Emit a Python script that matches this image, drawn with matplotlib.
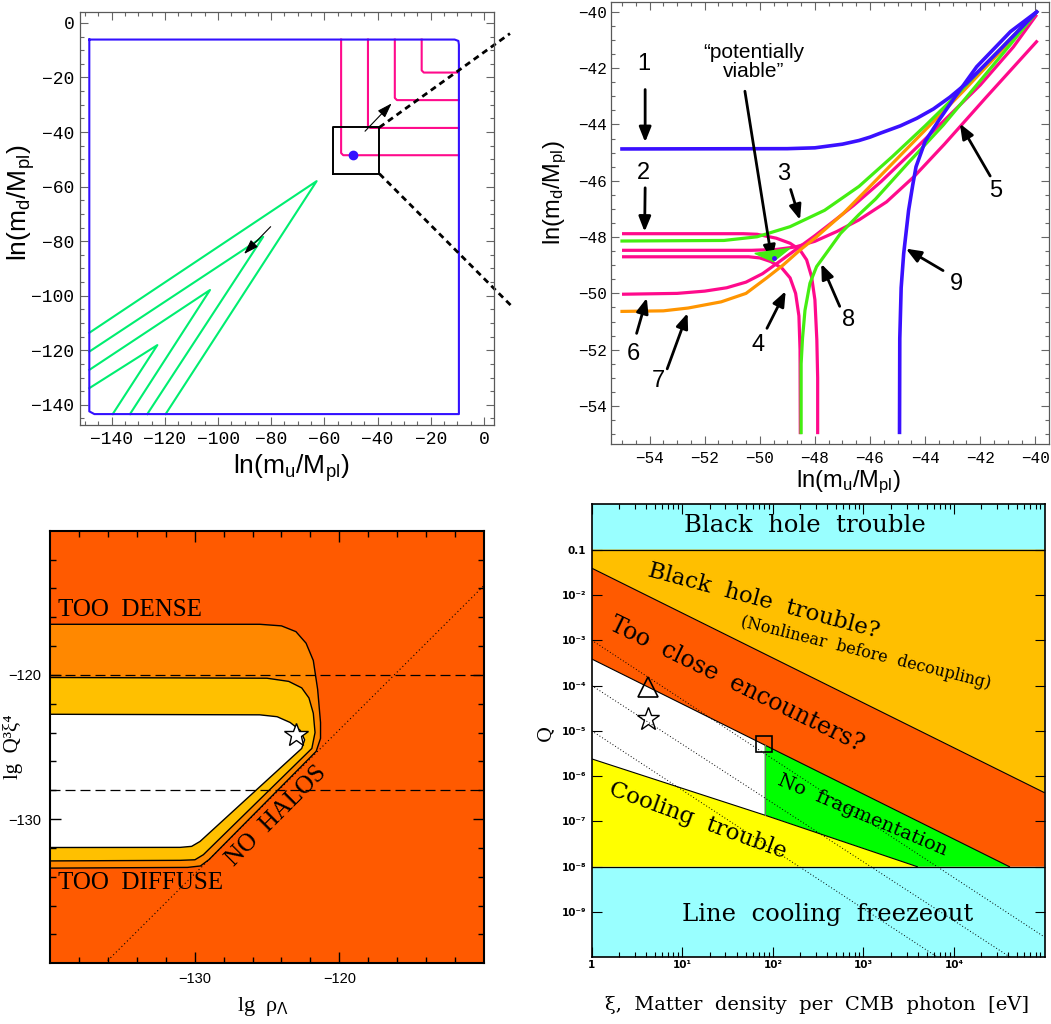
import numpy as np
import matplotlib
matplotlib.use('Agg')
import matplotlib.pyplot as plt

plt.rcParams['mathtext.fontset'] = 'custom'
plt.rcParams['mathtext.rm'] = 'Liberation Sans'
plt.rcParams['mathtext.it'] = 'Liberation Sans:italic'
plt.rcParams['mathtext.bf'] = 'Liberation Sans:bold'

MINUS = '\u2212'

# ---------------- panel 1 (wide view of ln m_d vs ln m_u) ----------------
blue_box_x = [-148.4, -11.0, -9.6, -9.4, -9.4, -146.5, -148.4, -148.4]
blue_box_y = [-6.1, -6.1, -6.6, -8.0, -143.4, -143.4, -142.4, -6.1]
pink_corner_x = [-53.7, -43.6, -33.5, -23.4]
pink_corner_y = [-48.5, -38.5, -28.3, -18.2]
green_left_y = [-113.6, -120.5, -127.2, -133.9]
green_tip_x = [-62.9, -83.0, -103.0, -122.8]
green_tip_y = [-58.0, -78.4, -97.9, -118.1]
green_bottom_x = [-119.7, -126.6, -133.1, -139.6]
dot1 = (-49.1, -48.5)
zoom_box_x = [-56.9, -39.3]
zoom_box_y = [-55.3, -38.3]
dash_start = [(-39.3, -38.3), (-39.3, -55.3)]
dash_end = [(9.8, -3.9), (10.4, -103.8)]
p1_arrow_tail = [(-44.7, -39.7), (-80.2, -74.7)]
p1_arrow_head = [(-34.7, -29.5), (-90.2, -84.7)]
p1_ticks = np.arange(-140, 1, 20)

# ---------------- panel 2 (zoom) ----------------
c1_x = [-55.0, -49.0, -48.0, -47.0, -46.4, -46.0, -45.6, -44.9, -44.3, -43.7, -43.1, -42.5, -41.3, -39.95]
c1_y = [-44.87, -44.86, -44.83, -44.7, -44.57, -44.45, -44.3, -44.05, -43.78, -43.45, -43.03, -42.54, -41.36, -40.0]
c9_x = [-44.93, -44.92, -44.87, -44.78, -44.6, -44.45, -44.33, -44.0, -43.5, -42.9, -42.13, -40.9, -39.95]
c9_y = [-55.0, -51.6, -49.8, -48.6, -47.05, -46.15, -45.5, -44.6, -43.85, -43.0, -41.95, -40.7, -40.0]
c5_x = [-55.0, -50.3, -49.4, -48.7, -48.0, -47.2, -46.4, -45.4, -44.4, -43.3, -41.8, -39.92]
c5_y = [-48.47, -48.47, -48.44, -48.35, -48.15, -47.8, -47.39, -46.75, -45.85, -44.7, -43.05, -41.02]
c2_x = [-55.0, -50.6, -50.1, -49.4, -48.9, -48.54, -48.3, -48.12, -48.0, -47.93, -47.9, -47.9]
c2_y = [-47.88, -47.88, -47.9, -48.04, -48.22, -48.46, -48.81, -49.41, -50.23, -51.65, -53.0, -55.0]
c4_x = [-55.0, -50.4, -50.0, -49.6, -49.2, -48.9, -48.7, -48.58, -48.54, -48.53]
c4_y = [-48.7, -48.7, -48.74, -48.87, -49.1, -49.45, -50.0, -50.8, -52.0, -55.0]
c6_x = [-55.0, -53.0, -52.0, -51.2, -50.5, -49.9, -49.3, -48.7, -48.0, -47.3, -46.6, -45.6, -44.5, -43.3, -42.0, -40.8, -39.95]
c6_y = [-50.03, -50.0, -49.92, -49.8, -49.6, -49.3, -48.88, -48.45, -47.95, -47.42, -46.88, -46.03, -45.0, -43.85, -42.6, -41.25, -40.1]
c7_x = [-55.0, -53.5, -52.6, -51.4, -50.5, -49.75, -49.15, -48.54, -47.94, -46.97, -45.9, -44.9, -43.8, -42.6, -41.3, -39.95]
c7_y = [-50.64, -50.62, -50.52, -50.3, -50.0, -49.45, -48.99, -48.46, -47.99, -47.16, -46.1, -45.1, -44.0, -42.8, -41.45, -40.0]
c3_x = [-55.0, -51.3, -50.1, -48.9, -47.65, -46.4, -45.2, -44.0, -42.75, -41.5, -39.95]
c3_y = [-48.14, -48.12, -47.99, -47.63, -47.05, -46.2, -45.15, -44.05, -42.85, -41.55, -40.0]
c8_x = [-48.5, -48.5, -48.45, -48.36, -48.18, -47.94, -47.57, -47.07, -46.4, -45.8, -44.6, -43.35, -42.13, -40.9, -39.95]
c8_y = [-55.0, -52.5, -51.6, -50.6, -49.64, -49.05, -48.55, -47.87, -47.2, -46.65, -45.35, -44.03, -42.6, -41.15, -40.0]
viable_x = [-50.18, -48.91, -49.51]
viable_y = [-48.58, -48.4, -48.87]
dot2 = (-49.47, -48.73)
num_labels = ['1', '2', '3', '4', '5', '6', '7', '8', '9']
num_pos = [(-54.22, -41.86), (-54.22, -45.71), (-49.13, -45.77), (-50.05, -51.84), (-41.45, -46.37),
           (-54.59, -52.14), (-53.67, -53.1), (-46.79, -50.94), (-42.86, -49.68)]
num_tail = [(-54.16, -42.76), (-54.16, -46.25), (-48.88, -46.31), (-49.74, -51.24), (-41.64, -45.83),
            (-54.47, -51.42), (-53.36, -52.68), (-47.1, -50.46), (-43.35, -49.19)]
num_head = [(-54.16, -44.63), (-54.18, -47.81), (-48.54, -47.39), (-49.06, -49.92), (-42.74, -43.97),
            (-54.1, -50.16), (-52.62, -50.7), (-47.77, -48.95), (-44.7, -48.41)]
viable_text_pos = (-50.23, -41.77)
viable_tail = (-50.54, -42.82)
viable_head = (-49.56, -48.83)
p2_ticks = np.arange(-54, -39, 2)

# ---------------- panel 3 (lg rho_Lambda vs lg Q^3 xi^4) ----------------
outer_x = [-140, -125.5, -124.0, -123.0, -122.3, -121.8, -121.5, -121.3, -121.3, -121.6, -129.0, -129.6, -130.5, -140]
outer_y = [-116.49, -116.49, -116.6, -117.0, -117.8, -119.0, -121.0, -123.3, -124.4, -125.3, -132.8, -133.25, -133.35, -133.4]
middle_x = [-140, -125.0, -123.5, -122.6, -122.1, -121.8, -121.68, -121.9, -129.4, -129.98, -131.0, -140]
middle_y = [-120.18, -120.23, -120.45, -120.9, -121.6, -122.66, -124.0, -125.1, -132.47, -132.82, -132.86, -132.9]
inner_x = [-140, -125.5, -124.3, -123.4, -122.7, -122.4, -122.6, -129.63, -130.21, -131.0, -140]
inner_y = [-122.73, -122.77, -122.9, -123.3, -123.85, -124.5, -125.1, -131.55, -131.89, -131.96, -131.97]
dashed_levels = [-120, -128]
diag_x = [-136.2, -110.0]
diag_y = [-140.0, -113.8]
star3 = (-123.0, -124.2)
p3_ticks = [-130, -120]

# ---------------- panel 4 (xi vs Q) ----------------
upper_xi = [1, 1e5]
upper_q = [3.9e-2, 4.3e-7]
lower_xi = [1, 4.1e4]
lower_q = [3.85e-4, 1e-8]
cool_xi = [1, 81, 3.94e3]
cool_q = [2.4e-6, 1.38e-7, 1e-8]
frag_xi = 81
frag_q_top = 4.9e-6
q_bh = 0.1
q_line = 1e-8
dot_xi_start = [1, 1, 1]
dot_q_start = [1e-3, 1e-4, 1e-5]
dot_xi_end = [1e5, 4.2e4, 6.6e3]
dot_q_end = [2.8e-10, 1e-10, 1e-10]
tri4 = (4.15, 9.5e-5)
star4 = (4.15, 1.8e-5)
sq4 = (80, 5.1e-6)
p4_xticks = [1, 1e1, 1e2, 1e3, 1e4]
p4_xlabels = ['1', '10\u00b9', '10\u00b2', '10\u00b3', '10\u2074']
p4_yticks = [1e-1, 1e-2, 1e-3, 1e-4, 1e-5, 1e-6, 1e-7, 1e-8, 1e-9]
p4_ylabels = ['0.1', '10\u207b\u00b2', '10\u207b\u00b3', '10\u207b\u2074', '10\u207b\u2075',
              '10\u207b\u2076', '10\u207b\u2077', '10\u207b\u2078', '10\u207b\u2079']

W, H = 1051, 1024
fig = plt.figure(figsize=(W / 100, H / 100), dpi=100)


def box(l, r, t, b):
    return [l / W, 1 - b / H, (r - l) / W, (b - t) / H]


# ---------- panel 1 ----------
ax1 = fig.add_axes(box(80, 494, 12, 425))
blue = '#3311FF'
pink = '#FF0A8C'
green1 = '#00EE70'
for ly, tx, ty, bx in zip(green_left_y, green_tip_x, green_tip_y, green_bottom_x):
    ax1.plot([-148.4, tx, bx], [ly, ty, -143.4], color=green1, lw=1.5, solid_joinstyle='round')
for cx, cy in zip(pink_corner_x, pink_corner_y):
    ax1.plot([cx, cx, cx + 0.8, -9.4], [-6.1, cy + 0.8, cy, cy], color=pink, lw=1.5)
ax1.plot(blue_box_x, blue_box_y, color=blue, lw=1.5)
ax1.plot(*dot1, 'o', color=blue, ms=6)
ax1.plot([zoom_box_x[0], zoom_box_x[1], zoom_box_x[1], zoom_box_x[0], zoom_box_x[0]],
         [zoom_box_y[0], zoom_box_y[0], zoom_box_y[1], zoom_box_y[1], zoom_box_y[0]], color='k', lw=1.4)
for s, e in zip(dash_start, dash_end):
    ax1.plot([s[0], e[0]], [s[1], e[1]], color='k', lw=2, dashes=(2.2, 1.6), clip_on=False)
for t, h in zip(p1_arrow_tail, p1_arrow_head):
    ax1.annotate('', xy=h, xytext=t,
                 arrowprops=dict(arrowstyle='-|>,head_length=0.9,head_width=0.3', color='k', lw=0.8,
                                 mutation_scale=10, shrinkA=0, shrinkB=0))
ax1.set_xlim(-151.9, 3.8)
ax1.set_ylim(-147.4, 4.0)
lab1 = [str(v).replace('-', MINUS) for v in p1_ticks]
ax1.set_xticks(p1_ticks, lab1, fontfamily='Liberation Mono', fontsize=13)
ax1.set_yticks(p1_ticks, lab1, fontfamily='Liberation Mono', fontsize=13)
ax1.set_xticks(np.arange(-150, 4, 5), minor=True)
ax1.set_yticks(np.arange(-145, 4, 5), minor=True)
ax1.tick_params(which='both', direction='in', top=True, right=True, color='0.4', width=0.8)
ax1.tick_params(which='major', length=6)
ax1.tick_params(which='minor', length=3)
ax1.tick_params(axis='x', pad=4)
ax1.tick_params(axis='y', pad=4)
for sp in ax1.spines.values():
    sp.set_color('0.35')
    sp.set_linewidth(0.9)
ax1.set_xlabel('ln(m$_\\mathrm{u}$/M$_\\mathrm{pl}$)', fontfamily='Liberation Sans', fontsize=19,
               va='center', ha='center')
ax1.xaxis.set_label_coords(0.51, -0.104)
ax1.set_ylabel('ln(m$_\\mathrm{d}$/M$_\\mathrm{pl}$)', fontfamily='Liberation Sans', fontsize=19,
               va='center', ha='center')
ax1.yaxis.set_label_coords(-0.141, 0.537)

# ---------- panel 2 ----------
ax2 = fig.add_axes(box(610.7, 1048.6, 1.7, 444.3))
green2 = '#44EE11'
orange2 = '#FF9500'
blue2 = '#3A10FF'
lw2 = 2.3
for xs, ys in [(c6_x, c6_y), (c5_x, c5_y), (c2_x, c2_y), (c4_x, c4_y)]:
    ax2.plot(xs, ys, color=pink, lw=lw2, solid_capstyle='butt', solid_joinstyle='round')
ax2.plot(c7_x, c7_y, color=orange2, lw=lw2, solid_joinstyle='round')
ax2.plot(c3_x, c3_y, color=green2, lw=lw2, solid_joinstyle='round')
ax2.plot(c8_x, c8_y, color=green2, lw=lw2, solid_capstyle='butt', solid_joinstyle='round')
ax2.plot(c1_x, c1_y, color=blue2, lw=lw2 + 0.3, solid_joinstyle='round')
ax2.plot(c9_x, c9_y, color=blue2, lw=lw2 + 0.3, solid_capstyle='butt', solid_joinstyle='round')
ax2.fill(viable_x, viable_y, color=green2, zorder=4)
ax2.plot(*dot2, 'o', color=blue2, ms=2.5, zorder=5)
arrow_kw = dict(arrowstyle='-|>,head_length=0.75,head_width=0.3', color='k', lw=2,
                mutation_scale=12, shrinkA=0, shrinkB=0)
for lab, pos, t, h in zip(num_labels, num_pos, num_tail, num_head):
    ax2.text(pos[0], pos[1], lab, fontfamily='Liberation Sans', fontsize=17, ha='center', va='center')
    ax2.annotate('', xy=h, xytext=t, arrowprops=arrow_kw)
ax2.text(*viable_text_pos, '\u201cpotentially\nviable\u201d', fontfamily='Liberation Sans', fontsize=15,
         ha='center', va='center', linespacing=1.0)
ax2.annotate('', xy=viable_head, xytext=viable_tail, arrowprops=arrow_kw)
ax2.set_xlim(-55.41, -39.52)
ax2.set_ylim(-55.36, -39.64)
lab2 = [str(v).replace('-', MINUS) for v in p2_ticks]
ax2.set_xticks(p2_ticks, lab2, fontfamily='Liberation Mono', fontsize=11.5)
ax2.set_yticks(p2_ticks, lab2, fontfamily='Liberation Mono', fontsize=11.5)
ax2.set_xticks(np.arange(-55, -39.5, 0.5), minor=True)
ax2.set_yticks(np.arange(-55, -39.5, 0.5), minor=True)
ax2.tick_params(which='both', direction='in', top=True, right=True, color='0.4', width=0.8)
ax2.tick_params(which='major', length=6)
ax2.tick_params(which='minor', length=3)
ax2.tick_params(axis='x', pad=5)
ax2.tick_params(axis='y', pad=3)
for sp in ax2.spines.values():
    sp.set_color('0.35')
    sp.set_linewidth(0.9)
ax2.set_xlabel('ln(m$_\\mathrm{u}$/M$_\\mathrm{pl}$)', fontfamily='Liberation Sans', fontsize=17,
               va='center', ha='center')
ax2.xaxis.set_label_coords(0.542, -0.085)
ax2.set_ylabel('ln(m$_\\mathrm{d}$/M$_\\mathrm{pl}$)', fontfamily='Liberation Sans', fontsize=17,
               va='center', ha='center')
ax2.yaxis.set_label_coords(-0.126, 0.568)

# ---------- panel 3 ----------
ax3 = fig.add_axes(box(50, 484, 530.7, 963.3))
ax3.set_facecolor('#FF5A00')
ax3.fill(outer_x, outer_y, color='#FF8800', lw=0)
ax3.fill(middle_x, middle_y, color='#FFC000', lw=0)
ax3.fill(inner_x, inner_y, color='white', lw=0)
for xs, ys in [(outer_x, outer_y), (middle_x, middle_y), (inner_x, inner_y)]:
    ax3.plot(xs, ys, color='k', lw=1.0)
for lev in dashed_levels:
    ax3.axhline(lev, color='k', lw=0.9, dashes=(8, 4))
ax3.plot(diag_x, diag_y, color='k', lw=0.8, dashes=(1, 2.5))
ax3.plot(*star3, marker='*', ms=18, mfc='white', mec='k', mew=1.0)
serif3 = ['Liberation Serif', 'DejaVu Serif']
ax3.text(-139.42, -115.5, 'TOO  DENSE', fontfamily=serif3, fontsize=18, ha='left', va='center')
ax3.text(-139.42, -134.43, 'TOO  DIFFUSE', fontfamily=serif3, fontsize=18, ha='left', va='center')
ax3.text(-124.33, -129.82, 'NO  HALOS', fontfamily=serif3, fontsize=18, ha='center', va='center',
         rotation=45, rotation_mode='anchor')
ax3.set_xlim(-140, -110)
ax3.set_ylim(-140, -110)
lab3 = [str(v).replace('-', MINUS) for v in p3_ticks]
ax3.set_xticks(p3_ticks, lab3, fontfamily='Liberation Sans', fontsize=10.5)
ax3.set_yticks(p3_ticks, lab3, fontfamily='Liberation Sans', fontsize=10.5)
ax3.set_xticks(np.arange(-138, -110, 2), minor=True)
ax3.set_yticks(np.arange(-138, -110, 2), minor=True)
ax3.tick_params(which='both', direction='in', top=True, right=True, width=1.0)
ax3.tick_params(which='major', length=8)
ax3.tick_params(which='minor', length=4)
ax3.tick_params(axis='x', pad=6)
ax3.tick_params(axis='y', pad=6)
for sp in ax3.spines.values():
    sp.set_linewidth(1.5)
ax3.set_xlabel('lg  \u03c1$_{\\Lambda}$', fontfamily=serif3, fontsize=16, va='center', ha='center')
ax3.xaxis.set_label_coords(0.49, -0.101)
ax3.set_ylabel('lg  Q\u00b3\u03be\u2074', fontfamily=serif3, fontsize=15, va='center', ha='center')
ax3.yaxis.set_label_coords(-0.085, 0.5)

# ---------- panel 4 ----------
ax4 = fig.add_axes(box(591.7, 1044.5, 504.3, 957.3))
ax4.set_xscale('log')
ax4.set_yscale('log')
ax4.set_xlim(1, 1e5)
ax4.set_ylim(1e-10, 1)
cyan = '#99FFFF'
ax4.axhspan(q_bh, 1, color=cyan, lw=0)
ax4.axhspan(1e-10, q_line, color=cyan, lw=0)
ax4.fill([upper_xi[0], upper_xi[1], upper_xi[1], upper_xi[0]],
         [q_bh, q_bh, upper_q[1], upper_q[0]], color='#FFBF00', lw=0)
ax4.fill([upper_xi[0], upper_xi[1], upper_xi[1], lower_xi[1], lower_xi[0]],
         [upper_q[0], upper_q[1], q_line, q_line, lower_q[0]], color='#FF5A00', lw=0)
ax4.fill([frag_xi, lower_xi[1], cool_xi[2], frag_xi],
         [frag_q_top, q_line, q_line, cool_q[1]], color='#00FF00', lw=0)
ax4.fill([cool_xi[0], cool_xi[1], cool_xi[2], cool_xi[0]],
         [cool_q[0], cool_q[1], cool_q[2], q_line], color='#FFFF00', lw=0)
ax4.plot(upper_xi, upper_q, color='k', lw=0.8)
ax4.plot(lower_xi, lower_q, color='k', lw=0.8)
ax4.plot(cool_xi, cool_q, color='k', lw=0.8)
ax4.plot([frag_xi, frag_xi], [cool_q[1], frag_q_top], color='0.45', lw=0.8)
ax4.axhline(q_bh, color='k', lw=0.9)
ax4.axhline(q_line, color='k', lw=0.9)
for xs, qs, xe, qe in zip(dot_xi_start, dot_q_start, dot_xi_end, dot_q_end):
    ax4.plot([xs, xe], [qs, qe], color='k', lw=0.7, dashes=(1, 2.2))
ax4.plot(*tri4, marker='^', ms=14, mfc='none', mec='k', mew=1.2)
ax4.plot(*star4, marker='*', ms=17, mfc='none', mec='k', mew=1.0)
ax4.plot(*sq4, marker='s', ms=11, mfc='none', mec='k', mew=1.2)
serif4 = 'DejaVu Serif'
txt = dict(fontfamily=serif4, ha='center', va='center', rotation_mode='anchor')
ax4.text(224, 0.34, 'Black  hole  trouble', fontsize=17.5, **txt)
ax4.text(10 ** 1.90, 10 ** -2.13, 'Black  hole  trouble?', fontsize=16.5, rotation=-15, **txt)
ax4.text(10 ** 3.03, 10 ** -3.28, '(Nonlinear  before  decoupling)', fontsize=11.5, rotation=-14, **txt)
ax4.text(10 ** 1.60, 10 ** -3.97, 'Too  close  encounters?', fontsize=17, rotation=-26, **txt)
ax4.text(10 ** 1.17, 10 ** -6.98, 'Cooling  trouble', fontsize=16.5, rotation=-20, **txt)
ax4.text(10 ** 2.99, 10 ** -6.86, 'No  fragmentation', fontsize=14, rotation=-23, **txt)
ax4.text(10 ** 2.61, 10 ** -9.05, 'Line  cooling  freezeout', fontsize=17.5, **txt)
ax4.set_xticks(p4_xticks, p4_xlabels, fontfamily='DejaVu Sans', fontsize=7.5, fontweight='bold')
ax4.set_yticks(p4_yticks, p4_ylabels, fontfamily='DejaVu Sans', fontsize=7.5, fontweight='bold')
ax4.xaxis.set_minor_formatter(matplotlib.ticker.NullFormatter())
ax4.yaxis.set_minor_formatter(matplotlib.ticker.NullFormatter())
ax4.tick_params(which='both', direction='in', top=True, right=True, width=0.8)
ax4.tick_params(which='major', length=7)
ax4.tick_params(which='minor', length=3.5)
ax4.tick_params(axis='x', pad=2)
ax4.tick_params(axis='y', pad=4)
for sp in ax4.spines.values():
    sp.set_linewidth(1.2)
ax4.set_xlabel('\u03be,  Matter  density  per  CMB  photon  [eV]', fontfamily=serif4, fontsize=14,
               va='center', ha='center')
ax4.xaxis.set_label_coords(0.497, -0.106)
ax4.set_ylabel('Q', fontfamily=serif4, fontsize=14, va='center', ha='center')
ax4.yaxis.set_label_coords(-0.102, 0.495)

fig.savefig('out.png', dpi=100)
